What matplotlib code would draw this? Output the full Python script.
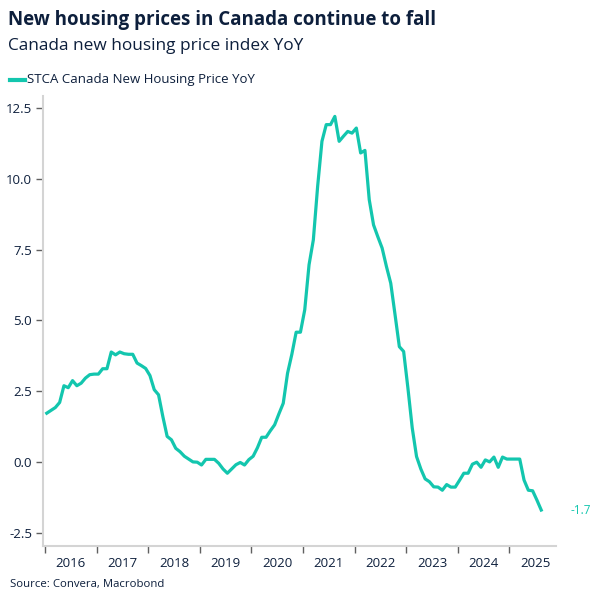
import numpy as np
import matplotlib.pyplot as plt
from matplotlib.ticker import FixedLocator, NullFormatter, FixedFormatter

plt.rcParams['font.family'] = ['Open Sans', 'DejaVu Sans']

# monthly YoY %, Jan 2016 .. Aug 2025
start_year = 2016
yoy = [
    1.72, 1.82, 1.92, 2.10, 2.69, 2.62, 2.87, 2.69, 2.78, 2.96, 3.08, 3.10,
    3.10, 3.29, 3.29, 3.88, 3.78, 3.88, 3.82, 3.80, 3.80, 3.49, 3.40, 3.30,
    3.05, 2.55, 2.37, 1.60, 0.90, 0.78, 0.48, 0.36, 0.20, 0.10, 0.00, -0.01,
    -0.11, 0.09, 0.09, 0.09, -0.05, -0.25, -0.40, -0.25, -0.10, -0.02, -0.11, 0.08,
    0.20, 0.50, 0.87, 0.87, 1.10, 1.31, 1.70, 2.07, 3.13, 3.80, 4.58, 4.58,
    5.37, 6.96, 7.84, 9.73, 11.32, 11.91, 11.91, 12.20, 11.32, 11.50, 11.67, 11.61,
    11.79, 10.91, 11.00, 9.26, 8.37, 7.95, 7.55, 6.90, 6.31, 5.20, 4.07, 3.90,
    2.60, 1.20, 0.19, -0.25, -0.60, -0.70, -0.88, -0.89, -1.00, -0.80, -0.89, -0.89,
    -0.65, -0.40, -0.40, -0.08, -0.01, -0.19, 0.07, 0.00, 0.17, -0.19, 0.17, 0.10,
    0.10, 0.10, 0.10, -0.64, -1.00, -1.02, -1.35, -1.70,
]
years = list(range(2016, 2026))
yticks = [-2.5, 0.0, 2.5, 5.0, 7.5, 10.0, 12.5]

teal = '#13c6ae'
navy = '#0d1f3c'

t = start_year + (np.arange(len(yoy)) + 0.4) / 12

fig = plt.figure(figsize=(6.06, 6.06), dpi=100)
ax = fig.add_axes([0.0715, 0.099, 0.846, 0.743])

ax.plot(t, yoy, color=teal, linewidth=2.3, solid_joinstyle='round')

ax.set_xlim(2015.967, 2025.903)
ax.set_ylim(-2.97, 12.93)

ax.xaxis.set_major_locator(FixedLocator(years))
ax.xaxis.set_major_formatter(NullFormatter())
ax.xaxis.set_minor_locator(FixedLocator([y + 0.5 for y in years]))
ax.xaxis.set_minor_formatter(FixedFormatter([str(y) for y in years]))
ax.tick_params(axis='x', which='major', length=5, width=1, color='#606060')
ax.tick_params(axis='x', which='minor', length=0, pad=8, labelsize=9.5, labelcolor=navy)

ax.set_yticks(yticks)
ax.set_yticklabels([f'{v:.1f}' for v in yticks])
ax.tick_params(axis='y', length=5, width=1, color='#606060', labelsize=9.5, labelcolor=navy, pad=3)

for side in ['top', 'right']:
    ax.spines[side].set_visible(False)
for side in ['left', 'bottom']:
    ax.spines[side].set_color('#d4d4d4')
    ax.spines[side].set_linewidth(1.5)

ax.annotate(f'{yoy[-1]:.1f}', xy=(t[-1], yoy[-1]), xytext=(21, 0),
            textcoords='offset points', ha='left', va='center',
            fontsize=8.5, color=teal, annotation_clip=False)

fig.text(8 / 606, 1 - 20 / 606, 'New housing prices in Canada continue to fall',
         fontsize=13.5, fontweight='bold', color=navy, va='center', ha='left')
fig.text(8 / 606, 1 - 46 / 606, 'Canada new housing price index YoY',
         fontsize=12.4, color=navy, va='center', ha='left')
fig.lines.append(plt.Line2D([10 / 606, 25 / 606], [1 - 80 / 606, 1 - 80 / 606],
                            transform=fig.transFigure, color=teal, linewidth=3))
fig.text(27 / 606, 1 - 80 / 606, 'STCA Canada New Housing Price YoY',
         fontsize=9.5, color=navy, va='center', ha='left')
fig.text(10 / 606, 1 - 584 / 606, 'Source: Convera, Macrobond',
         fontsize=8.2, color=navy, va='center', ha='left')

fig.savefig('out.png', dpi=100, facecolor='white')
